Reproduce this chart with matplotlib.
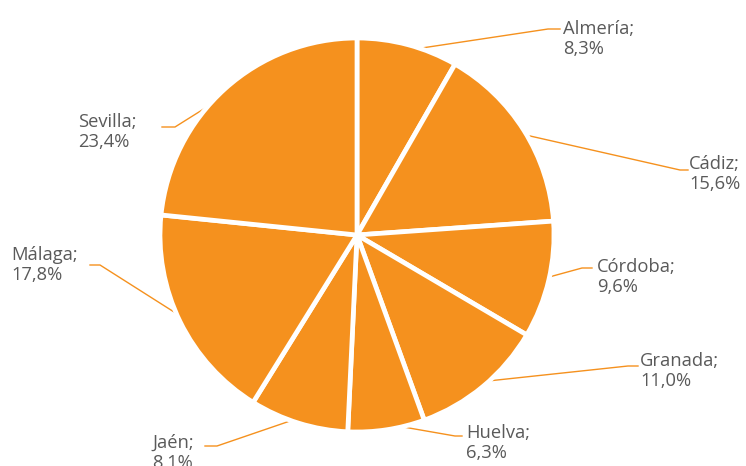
import numpy as np
import matplotlib.pyplot as plt

# data
provincias = ["Almería", "Cádiz", "Córdoba", "Granada", "Huelva", "Jaén", "Málaga", "Sevilla"]
porcentajes = [8.3, 15.6, 9.6, 11.0, 6.3, 8.1, 17.8, 23.4]

# layout (pixel coords, y from top): leader elbow, leader end, text anchor
W, H = 746, 466
cx, cy, R = 357, 235, 197
elbow = [(548, 29), (680, 170), (582, 268), (628, 366), (455, 436), (217, 446), (100, 265), (175, 127)]
lend = [(560, 29), (688, 170), (592, 268), (638, 366), (462, 436), (205, 446), (90, 265), (162, 127)]
txt_xy = [(563, 39), (689, 174), (597, 277), (640, 371), (466, 443), (152, 453), (11, 265), (78, 132)]

orange = "#F5911E"
grey = "#5A5A5A"

fig = plt.figure(figsize=(W / 100, H / 100), dpi=100)
ax = fig.add_axes([0, 0, 1, 1])

wedges, _ = ax.pie(porcentajes, startangle=90, counterclock=False,
                   colors=[orange] * len(porcentajes),
                   center=(cx, H - cy), radius=R,
                   wedgeprops=dict(edgecolor="white", linewidth=3.4))

for i, w in enumerate(wedges):
    mid = np.deg2rad((w.theta1 + w.theta2) / 2)
    x0 = cx + R * 0.97 * np.cos(mid)
    y0 = (H - cy) + R * 0.97 * np.sin(mid)
    xs = [x0, elbow[i][0], lend[i][0]]
    ys = [y0, H - elbow[i][1], H - lend[i][1]]
    ax.plot(xs, ys, color=orange, lw=1.0, zorder=0.5)
    lab = f"{provincias[i]};\n{porcentajes[i]:.1f}%".replace(".", ",")
    ax.text(txt_xy[i][0], H - txt_xy[i][1], lab, ha="left", va="center",
            fontsize=13.2, color=grey, linespacing=1.12, family="Open Sans")

ax.set_xlim(0, W)
ax.set_ylim(0, H)
ax.set_aspect("equal")
ax.axis("off")

fig.savefig("out.png", dpi=100)
